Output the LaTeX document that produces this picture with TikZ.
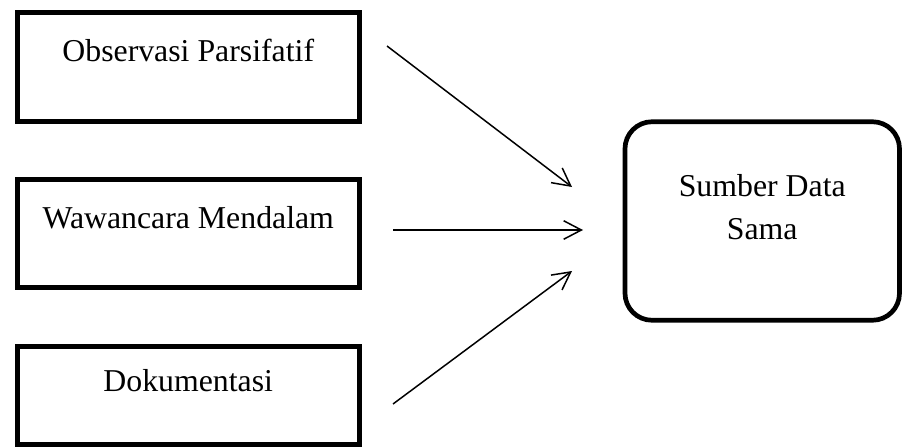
\documentclass[tikz,border=0pt]{standalone}
\usepackage{fontspec}
\setmainfont{Liberation Serif}
\usetikzlibrary{arrows.meta}
\begin{document}
\begin{tikzpicture}[x=1pt,y=-1pt,
    kotak/.style={draw,line width=5pt,inner sep=0pt,minimum width=342.5pt,font=\fontsize{31.8}{43}\selectfont},
    sumber/.style={draw,line width=4.7pt,rounded corners=27pt,inner sep=0pt,minimum width=274.5pt,align=center,font=\fontsize{31.8}{42.6}\selectfont},
    panah/.style={line width=1.5pt,-{Straight Barb[length=17.7pt,width=18.5pt]}}]
    \useasboundingbox (0,0) rectangle (902,447);
    \node[kotak,text height=49.5pt,text depth=60.1pt] (obs) at (188.25,67) {Observasi Parsifatif};
    \node[kotak,text height=49.1pt,text depth=59.2pt] (waw) at (188.25,233.4) {Wawancara Mendalam};
    \node[kotak,text height=45pt,text depth=53.5pt] (dok) at (188.25,395.25) {Dokumentasi};
    \node[sumber,text height=117.6pt,text depth=80.9pt] (sds) at (762.25,221) {Sumber Data\\Sama};
    \coordinate (a1) at (387,46);
    \coordinate (b1) at (572,187);
    \coordinate (a2) at (393,230);
    \coordinate (b2) at (583,230);
    \coordinate (a3) at (393,404);
    \coordinate (b3) at (572,271);
    \draw[panah] (a1) -- (b1);
    \draw[panah] (a2) -- (b2);
    \draw[panah] (a3) -- (b3);
\end{tikzpicture}
\end{document}
